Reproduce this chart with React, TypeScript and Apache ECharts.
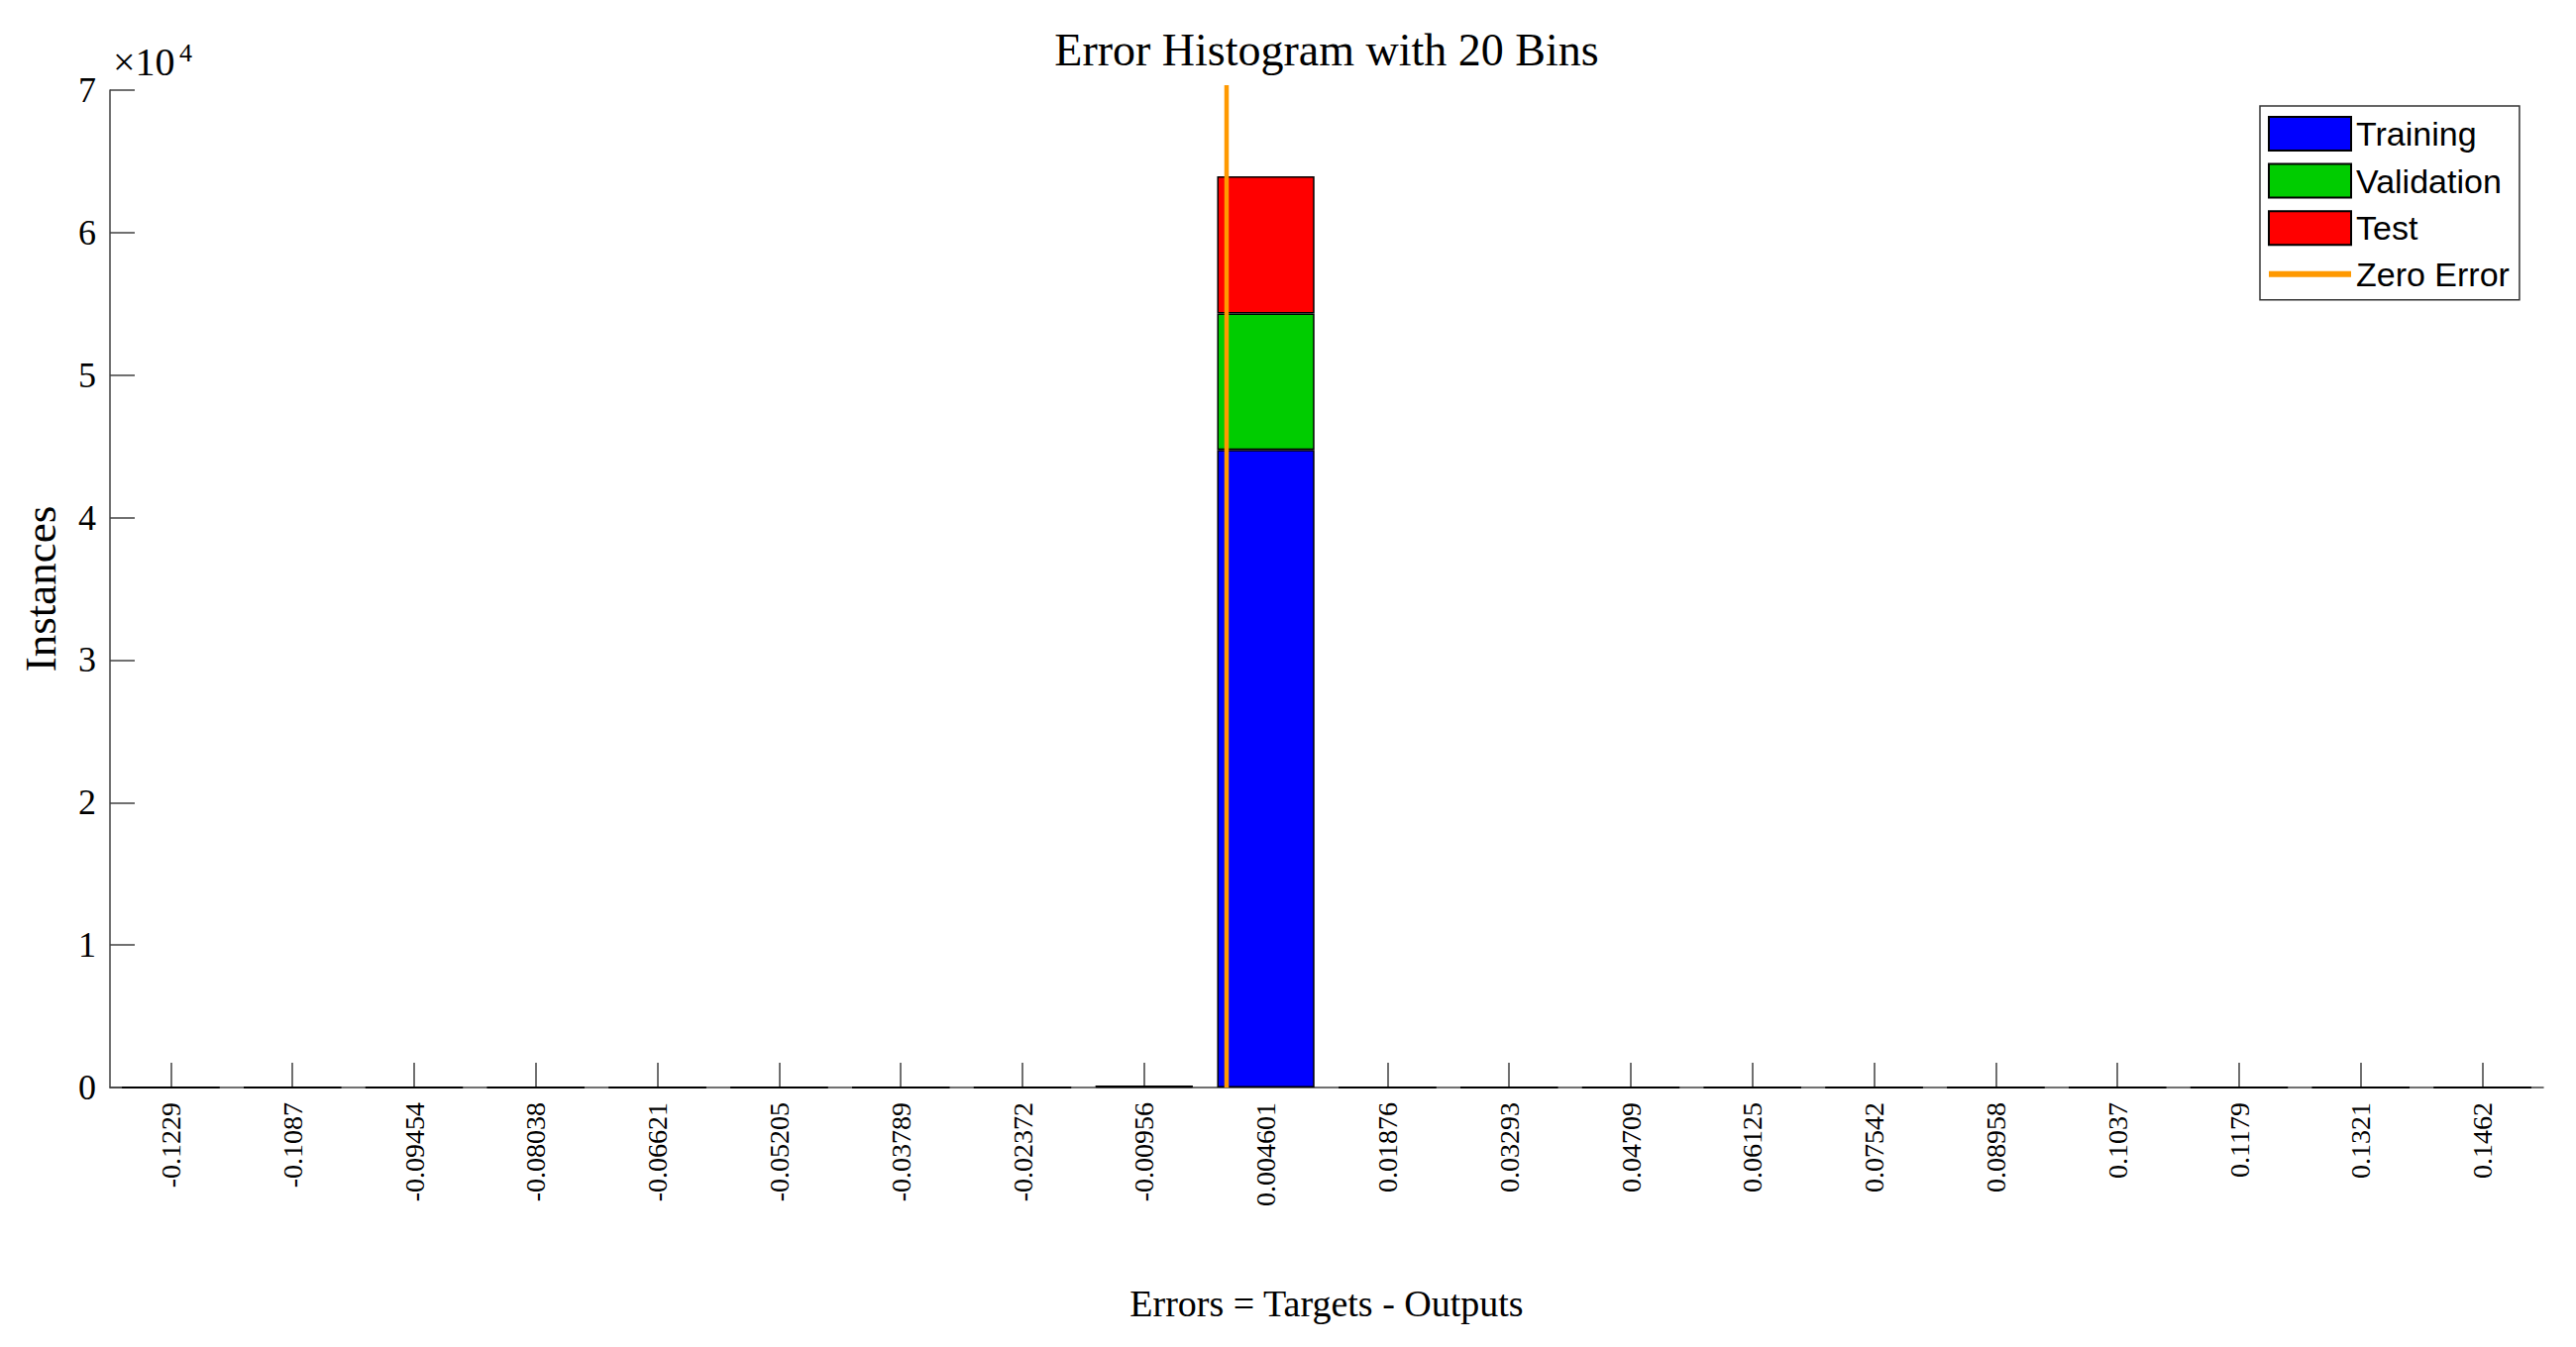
import React, { useEffect, useRef } from "react";
import * as echarts from "echarts";

const binCenters = [
  "-0.1229", "-0.1087", "-0.09454", "-0.08038", "-0.06621", "-0.05205", "-0.03789",
  "-0.02372", "-0.00956", "0.004601", "0.01876", "0.03293", "0.04709", "0.06125",
  "0.07542", "0.08958", "0.1037", "0.1179", "0.1321", "0.1462",
];
const trainingCounts = [0, 0, 0, 0, 0, 0, 0, 0, 70, 44750, 0, 0, 0, 0, 0, 0, 0, 0, 0, 0];
const validationCounts = [0, 0, 0, 0, 0, 0, 0, 0, 12, 9570, 0, 0, 0, 0, 0, 0, 0, 0, 0, 0];
const testCounts = [0, 0, 0, 0, 0, 0, 0, 0, 14, 9630, 0, 0, 0, 0, 0, 0, 0, 0, 0, 0];
const zeroErrorLine = [
  [0, 0],
  [0, 70350],
];
const yTicks = [0, 10000, 20000, 30000, 40000, 50000, 60000, 70000];

const SERIF = "'Liberation Serif', 'DejaVu Serif', serif";
const SANS = "'Liberation Sans', Arial, sans-serif";

export default function App() {
  const ref = useRef<HTMLDivElement>(null);

  useEffect(() => {
    if (!ref.current) return;
    const chart = echarts.init(ref.current, null, { renderer: "svg" });

    const first = parseFloat(binCenters[0]);
    const last = parseFloat(binCenters[binCenters.length - 1]);
    const binWidth = (last - first) / (binCenters.length - 1);

    const axisColor = "#404040";
    const edge = { borderColor: "#000", borderWidth: 1.5 };

    chart.setOption({
      animation: false,
      backgroundColor: "#fff",
      title: {
        text: "Error Histogram with 20 Bins",
        left: 1339,
        top: 27,
        padding: 0,
        textAlign: "center",
        textStyle: { fontFamily: SERIF, fontSize: 46, fontWeight: "normal", color: "#000" },
      },
      legend: {
        orient: "vertical",
        left: 2281,
        top: 107,
        padding: [10, 10, 9, 8],
        itemGap: 11.6,
        itemWidth: 83,
        itemHeight: 34,
        backgroundColor: "#fff",
        borderColor: "#333",
        borderWidth: 1.5,
        borderRadius: 0,
        selectedMode: false,
        symbolKeepAspect: true,
        textStyle: { fontFamily: SANS, fontSize: 34, color: "#000" },
        data: [
          { name: "Training", icon: "rect" },
          { name: "Validation", icon: "rect" },
          { name: "Test", icon: "rect" },
          {
            name: "Zero Error",
            icon: "path://M0 0H166V12H0Z",
            itemStyle: { color: "#FF9900", borderWidth: 0 },
            lineStyle: { color: "#FF9900", width: 5.5 },
          },
        ],
      },
      grid: { left: 111, right: 33, top: 91, bottom: 262, containLabel: false },
      xAxis: [
        {
          type: "category",
          data: binCenters,
          boundaryGap: true,
          axisLine: { show: true, onZero: false, lineStyle: { color: axisColor, width: 1.5 } },
          axisTick: { show: true, inside: true, alignWithLabel: true, length: 25, lineStyle: { color: axisColor, width: 1.5 } },
          axisLabel: {
            rotate: 90,
            margin: 15,
            interval: 0,
            fontFamily: SERIF,
            fontSize: 28,
            color: "#000",
          },
          name: "Errors = Targets - Outputs",
          nameLocation: "middle",
          nameGap: 199,
          nameTextStyle: { fontFamily: SERIF, fontSize: 38, color: "#000" },
          splitLine: { show: false },
        },
        {
          type: "value",
          show: false,
          min: first - binWidth / 2,
          max: last + binWidth / 2,
          axisLine: { onZero: false },
          splitLine: { show: false },
        },
      ],
      yAxis: {
        type: "value",
        min: yTicks[0],
        max: yTicks[yTicks.length - 1],
        interval: yTicks[1] - yTicks[0],
        axisLine: { show: true, onZero: false, lineStyle: { color: axisColor, width: 1.5 } },
        axisTick: { show: true, inside: true, length: 25, lineStyle: { color: axisColor, width: 1.5 } },
        axisLabel: {
          margin: 14,
          fontFamily: SERIF,
          fontSize: 36,
          color: "#000",
          formatter: (v: number) => String(v / 10000),
        },
        splitLine: { show: false },
        name: "Instances",
        nameLocation: "middle",
        nameRotate: 90,
        nameGap: 48,
        nameTextStyle: { fontFamily: SERIF, fontSize: 45, color: "#000" },
      },
      graphic: [
        {
          type: "text",
          left: 114,
          top: 42,
          style: { text: "×10", fontFamily: SERIF, fontSize: 40, fill: "#000" },
        },
        {
          type: "text",
          left: 181,
          top: 40,
          style: { text: "4", fontFamily: SERIF, fontSize: 26, fill: "#000" },
        },
      ],
      series: [
        {
          name: "Training",
          type: "bar",
          stack: "errors",
          barWidth: "80%",
          data: trainingCounts,
          itemStyle: { color: "#0000FF", ...edge },
        },
        {
          name: "Validation",
          type: "bar",
          stack: "errors",
          barWidth: "80%",
          data: validationCounts,
          itemStyle: { color: "#00CC00", ...edge },
        },
        {
          name: "Test",
          type: "bar",
          stack: "errors",
          barWidth: "80%",
          data: testCounts,
          itemStyle: { color: "#FF0000", ...edge },
        },
        {
          name: "Zero Error",
          type: "line",
          xAxisIndex: 1,
          yAxisIndex: 0,
          data: zeroErrorLine,
          symbol: "none",
          showSymbol: false,
          clip: false,
          z: 5,
          lineStyle: { color: "#FF9900", width: 4.5 },
          itemStyle: { color: "#FF9900" },
        },
      ],
    });

    return () => chart.dispose();
  }, []);

  return (
    <div
      ref={ref}
      style={{ position: "absolute", left: 0, top: 0, width: 2600, height: 1360 }}
    />
  );
}
